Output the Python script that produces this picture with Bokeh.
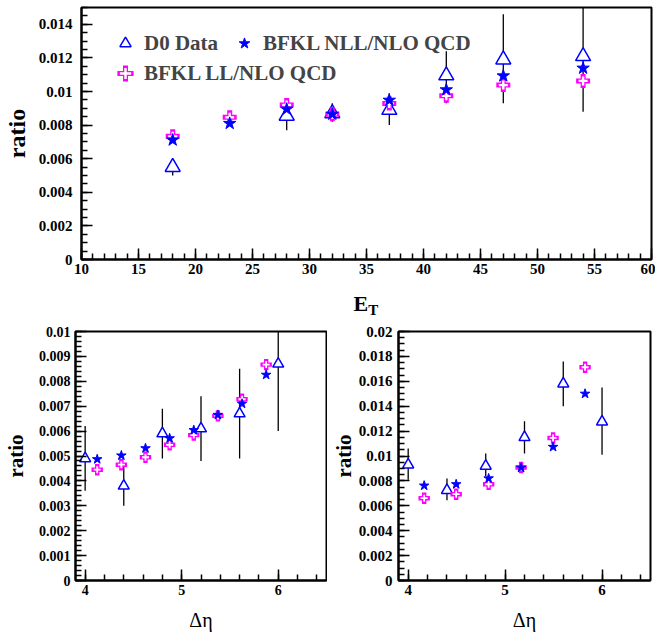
from bokeh.plotting import figure
from bokeh.models import (SingleIntervalTicker, CustomJSTickFormatter, Legend,
                          LegendItem, Label, Range1d, ColumnDataSource)
from bokeh.layouts import column, row
from bokeh.embed import file_html
from bokeh.resources import INLINE

# ---------------- data ----------------
# top panel: ratio vs E_T
et_data_x = [18, 28, 32, 37, 42, 47, 54]
et_data_y = [0.0055, 0.00855, 0.0087, 0.0089, 0.01095, 0.0119, 0.0121]
et_data_lo = [0.0050, 0.0077, 0.0082, 0.0080, 0.0093, 0.0093, 0.0088]
et_data_hi = [0.0060, 0.0094, 0.0093, 0.0099, 0.0124, 0.0146, 0.0155]
et_th_x = [18, 23, 28, 32, 37, 42, 47, 54]
et_nll = [0.00711, 0.0081, 0.00895, 0.00865, 0.00948, 0.0101, 0.01093, 0.01139]
et_ll = [0.00733, 0.00846, 0.0092, 0.00865, 0.00929, 0.00974, 0.01038, 0.01063]

# bottom-left panel: ratio vs delta eta
dl_data_x = [4.0, 4.4, 4.8, 5.2, 5.6, 6.0]
dl_data_y = [0.0049, 0.0038, 0.0059, 0.0061, 0.0067, 0.0087]
dl_data_lo = [0.0036, 0.0030, 0.0049, 0.0048, 0.0049, 0.0060]
dl_data_hi = [0.0062, 0.0046, 0.0069, 0.0074, 0.0085, 0.0113]
dl_th_x = [4.125, 4.375, 4.625, 4.875, 5.125, 5.375, 5.625, 5.875]
dl_nll = [0.00487, 0.00502, 0.00531, 0.00571, 0.00604, 0.00665, 0.0071, 0.00826]
dl_ll = [0.00445, 0.00465, 0.00495, 0.00545, 0.00584, 0.00661, 0.00728, 0.00867]

# bottom-right panel: ratio vs delta eta
dr_data_x = [4.0, 4.4, 4.8, 5.2, 5.6, 6.0]
dr_data_y = [0.0093, 0.00725, 0.0092, 0.0115, 0.0158, 0.01275]
dr_data_lo = [0.0081, 0.00645, 0.0084, 0.0102, 0.0140, 0.0101]
dr_data_hi = [0.0106, 0.0082, 0.0102, 0.0128, 0.0176, 0.0155]
dr_th_x = [4.165, 4.495, 4.83, 5.165, 5.495, 5.825]
dr_nll = [0.00762, 0.00773, 0.0082, 0.00906, 0.01073, 0.0150]
dr_ll = [0.00661, 0.00693, 0.00773, 0.00908, 0.01145, 0.01713]

labels = ["D0 Data", "BFKL NLL/NLO QCD", "BFKL LL/NLO QCD"]

FONT = "Liberation Serif"
BLUE = "#0000ff"
MAG = "#ff00ff"

fmt_code = "return String(Number(tick.toFixed(6)));"


def make_panel(width, height, xr, yr, xint, xminor, yint, yminor, borders,
               xlabel, ylabel, ylabel_size, ylabel_standoff, ylab_standoff,
               tick_size, data, sizes):
    bl, br, bt, bb = borders
    p = figure(width=width, height=height, output_backend="svg",
               toolbar_location=None, x_range=Range1d(*xr), y_range=Range1d(*yr),
               min_border_left=bl, min_border_right=br, min_border_top=bt,
               min_border_bottom=bb)
    p.xgrid.visible = False
    p.ygrid.visible = False
    p.outline_line_color = "black"
    p.outline_line_width = 2
    p.xaxis.ticker = SingleIntervalTicker(interval=xint, num_minor_ticks=xminor)
    p.yaxis.ticker = SingleIntervalTicker(interval=yint, num_minor_ticks=yminor)
    for ax in (p.xaxis[0], p.yaxis[0]):
        ax.formatter = CustomJSTickFormatter(code=fmt_code)
        ax.major_tick_in = 11
        ax.major_tick_out = 0
        ax.minor_tick_in = 6
        ax.minor_tick_out = 0
        ax.major_tick_line_width = 1.5
        ax.minor_tick_line_width = 1.5
        ax.axis_line_width = 2
        ax.major_label_text_font = FONT
        ax.major_label_text_font_style = "bold"
        ax.major_label_text_font_size = tick_size
        ax.major_label_text_color = "black"
        ax.axis_label_text_font = FONT
        ax.axis_label_text_color = "black"
    p.xaxis.major_label_standoff = 4
    p.yaxis.major_label_standoff = ylab_standoff
    p.yaxis.axis_label = ylabel
    p.yaxis.axis_label_text_font_style = "bold"
    p.yaxis.axis_label_text_font_size = ylabel_size
    p.yaxis.axis_label_standoff = ylabel_standoff
    if xlabel:
        p.xaxis.axis_label = xlabel
        p.xaxis.axis_label_text_font_style = "normal"
        p.xaxis.axis_label_text_font_size = "20px"
        p.xaxis.axis_label_standoff = 11

    dx, dy, dlo, dhi, tx, nll, ll = data
    tri_s, cross_s, cross_lw, star_s = sizes
    src = ColumnDataSource(dict(x=dx, y=dy, lo=dlo, hi=dhi))
    p.segment(x0="x", y0="lo", x1="x", y1="hi", source=src,
              line_color="black", line_width=1.3)
    r_tri = p.scatter("x", "y", source=src, marker="triangle", size=tri_s,
                      fill_color="white", line_color=BLUE, line_width=1.5)
    tsrc = ColumnDataSource(dict(x=tx, nll=nll, ll=ll))
    r_cm = p.scatter("x", "ll", source=tsrc, marker="cross", size=cross_s,
                     line_color=MAG, line_width=cross_lw, line_cap="square")
    r_cw = p.scatter("x", "ll", source=tsrc, marker="cross", size=cross_s,
                     line_color="white", line_width=cross_lw - 2.6)
    r_star = p.scatter("x", "nll", source=tsrc, marker="star", size=star_s,
                       fill_color=BLUE, line_color=BLUE, line_width=1)
    return p, r_tri, r_cm, r_cw, r_star


# ---------------- top panel ----------------
p_top, t_tri, t_cm, t_cw, t_star = make_panel(
    655, 280, (10, 60), (0, 0.015), 5, 5, 0.002, 4, (75, 4, 7, 21),
    None, "ratio", "24px", 6, 9, "15px",
    (et_data_x, et_data_y, et_data_lo, et_data_hi, et_th_x, et_nll, et_ll),
    (15, 9, 5, 13))

leg_kw = dict(label_text_font=FONT, label_text_font_style="bold",
              label_text_font_size="21px", glyph_width=28, glyph_height=28,
              label_standoff=5, spacing=2, padding=0, margin=0,
              border_line_color=None, background_fill_alpha=0)
legA = Legend(items=[LegendItem(label=labels[0], renderers=[t_tri]),
                     LegendItem(label=labels[2], renderers=[t_cm, t_cw])],
              location=(30, 172), **leg_kw)
legB = Legend(items=[LegendItem(label=labels[1], renderers=[t_star])],
              location=(149, 202), **leg_kw)
p_top.add_layout(legA)
p_top.add_layout(legB)

# strip below the top panel holding the x-axis title E_T (E with subscript T)
p_lab = figure(width=655, height=42, output_backend="svg", toolbar_location=None,
               x_range=p_top.x_range, y_range=Range1d(42, 0),
               x_axis_location=None, y_axis_location=None,
               min_border_left=75, min_border_right=4, min_border_top=0,
               min_border_bottom=0)
p_lab.outline_line_color = None
for g in p_lab.grid:
    g.visible = False
p_lab.add_layout(Label(x=35.15, y=23, text="E", text_align="right",
                       text_baseline="alphabetic", text_font=FONT,
                       text_font_style="bold", text_font_size="22px",
                       text_color="black"))
p_lab.add_layout(Label(x=35.15, y=29, text="T", text_align="left",
                       text_baseline="alphabetic", text_font=FONT,
                       text_font_style="bold", text_font_size="15px",
                       text_color="black"))

# ---------------- bottom panels ----------------
p_bl, *_ = make_panel(
    327, 311, (3.9, 6.5), (0, 0.01), 1, 5, 0.001, 5, (74, 1, 9, 51),
    "Δη", "ratio", "21px", 8, 5, "14px",
    (dl_data_x, dl_data_y, dl_data_lo, dl_data_hi, dl_th_x, dl_nll, dl_ll),
    (11, 7, 4.4, 10))

p_br, *_ = make_panel(
    328, 311, (3.9, 6.5), (0, 0.02), 1, 5, 0.002, 4, (71, 5, 9, 51),
    "Δη", "ratio", "21px", 0, 6, "15px",
    (dr_data_x, dr_data_y, dr_data_lo, dr_data_hi, dr_th_x, dr_nll, dr_ll),
    (11, 7, 4.4, 10))

layout = column(p_top, p_lab, row(p_bl, p_br))
open("out.html", "w").write(file_html(layout, INLINE))
